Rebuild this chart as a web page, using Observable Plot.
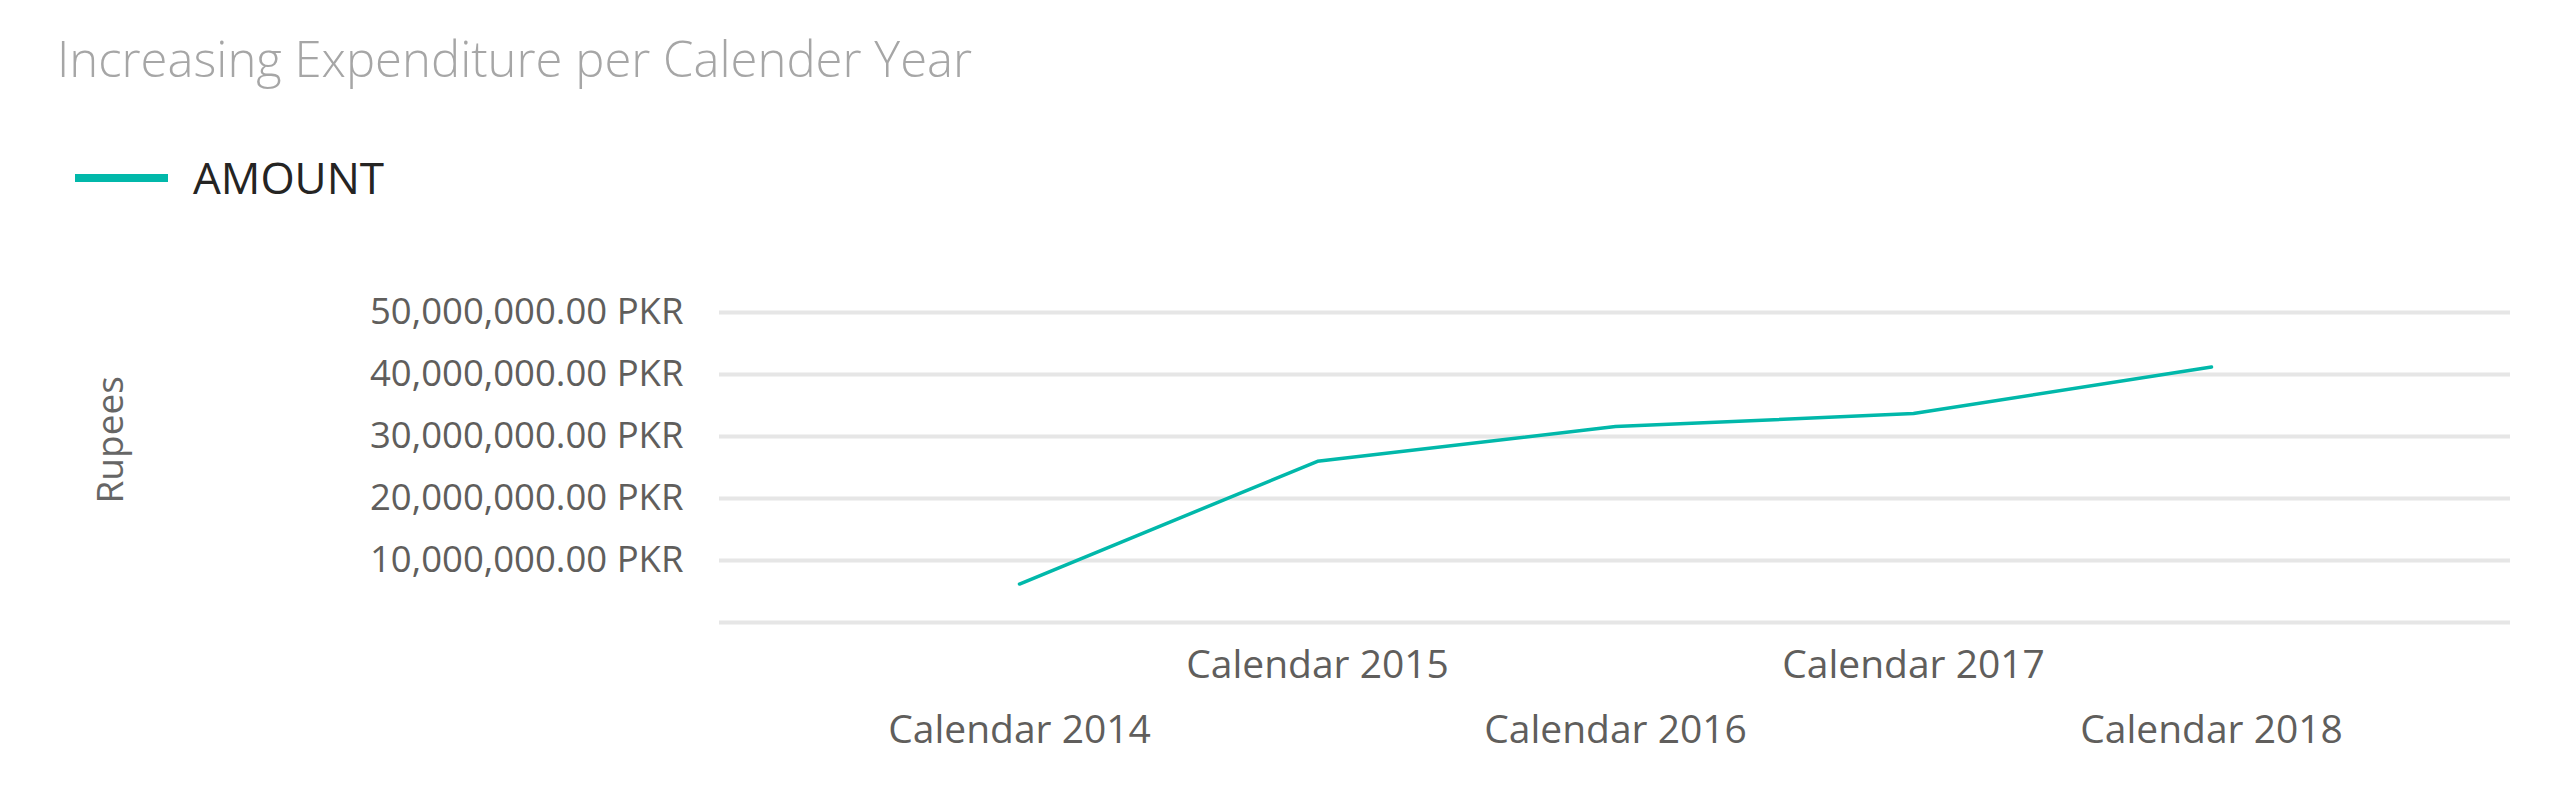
<!DOCTYPE html>
<html>
<head>
<meta charset="utf-8">
<script src="https://cdn.jsdelivr.net/npm/d3@7"></script>
<script src="https://cdn.jsdelivr.net/npm/@observablehq/plot@0.6"></script>
<style>
  html, body { margin: 0; padding: 0; background: #ffffff; width: 2559px; height: 805px; overflow: hidden; position: relative; }
  body { font-family: "Open Sans", "Noto Sans", sans-serif; }
  #title { position: absolute; left: 57px; top: 34px; font-size: 49px; line-height: 49px; font-weight: 300; color: #a6a6a6; white-space: nowrap; }
  #legend { position: absolute; left: 75px; top: 155px; height: 44px; white-space: nowrap; }
  #legend .swatch { position: absolute; left: 0; top: 19px; width: 93px; height: 8px; background: #01B8AA; }
  #legend .label { position: absolute; left: 118px; top: 0; font-size: 44px; line-height: 44px; color: #252423; }
  #chart { position: absolute; left: 0; top: 240px; }
</style>
</head>
<body>
<div id="title">Increasing Expenditure per Calender Year</div>
<div id="legend"><div class="swatch"></div><div class="label">AMOUNT</div></div>
<div id="chart"></div>
<script>
// Data
const years = ["Calendar 2014", "Calendar 2015", "Calendar 2016", "Calendar 2017", "Calendar 2018"];
const amounts = [6200000, 26000000, 31600000, 33700000, 41200000];
const yTicks = [10000000, 20000000, 30000000, 40000000, 50000000];
const gridValues = [0, 10000000, 20000000, 30000000, 40000000, 50000000];
const yLabel = "Rupees";
const seriesName = "AMOUNT";

const table = years.map((y, i) => ({year: y, amount: amounts[i]}));
const fmt = d3.format(",.2f");

const chart = Plot.plot({
  width: 2559,
  height: 565,
  marginLeft: 719,
  marginRight: 49,
  marginTop: 72,
  marginBottom: 183,
  style: {fontFamily: "'Open Sans', 'Noto Sans', sans-serif", background: "transparent", color: "#605e5c"},
  x: {type: "point", domain: years, padding: 1},
  y: {domain: [0, 50000000]},
  marks: [
    Plot.gridY(gridValues, {stroke: "#e6e6e6", strokeOpacity: 1, strokeWidth: 4}),
    Plot.axisY(yTicks, {tickSize: 0, tickPadding: 36, tickFormat: d => fmt(d) + " PKR", fontSize: 36.5, fill: "#605e5c", label: null}),
    Plot.axisX(years.filter((d, i) => i % 2 === 1), {tickSize: 0, tickPadding: 28, fontSize: 39, fill: "#605e5c", label: null}),
    Plot.axisX(years.filter((d, i) => i % 2 === 0), {tickSize: 0, tickPadding: 93, fontSize: 39, fill: "#605e5c", label: null}),
    Plot.text([yLabel], {frameAnchor: "left", dx: -608, dy: 36, rotate: -90, fontSize: 37, fill: "#666666"}),
    Plot.line(table, {x: "year", y: "amount", stroke: "#01B8AA", strokeWidth: 3.5})
  ]
});
document.getElementById("chart").appendChild(chart);
</script>
</body>
</html>
